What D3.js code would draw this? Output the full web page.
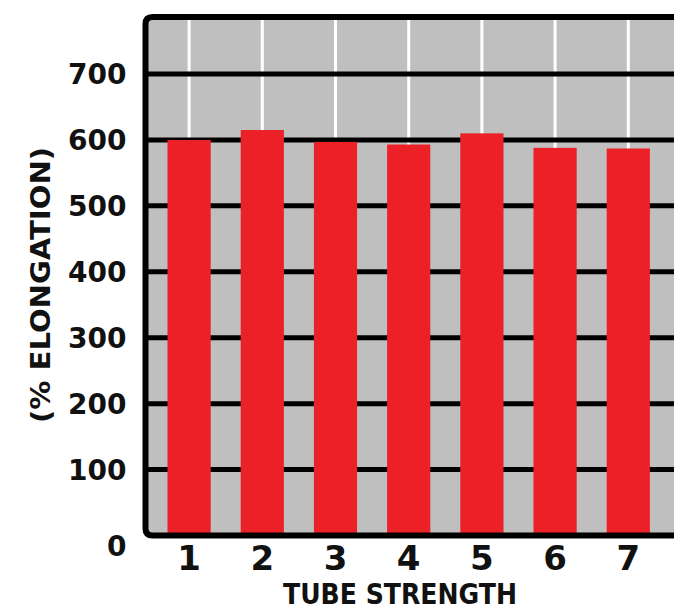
<!DOCTYPE html>
<html>
<head>
<meta charset="utf-8">
<script src="https://cdn.jsdelivr.net/npm/d3@7"></script>
<style>
  body { margin: 0; background: #fff; }
  text { font-family: "DejaVu Sans", sans-serif; font-weight: bold; fill: #111; }
</style>
</head>
<body>
<div id="chart"></div>
<script>
// chart data
const categories = ['1', '2', '3', '4', '5', '6', '7'];
const elongation = [600, 615, 597, 593, 610, 588, 587];
const yTicks = [0, 100, 200, 300, 400, 500, 600, 700];

const width = 674, height = 611;
const margin = { top: 17, right: -30, bottom: 75.5, left: 145.5 };
const innerW = width - margin.left - margin.right;
const innerH = height - margin.top - margin.bottom;

const svg = d3.select('#chart').append('svg')
  .attr('width', width)
  .attr('height', height);

// y scale: 0 at the bottom axis, 700 on the top gridline
const y = d3.scaleLinear()
  .domain([0, 700])
  .range([innerH, innerH - 461.5]);

const x = d3.scaleBand()
  .domain(categories)
  .range([7, 7 + 7 * 73.2])
  .paddingInner(0.41)
  .paddingOuter(0.205);

const g = svg.append('g')
  .attr('transform', `translate(${margin.left},${margin.top})`);

// plot background
g.append('rect')
  .attr('width', innerW)
  .attr('height', innerH)
  .attr('fill', '#bfbfbf');

// white vertical lines at bar centres
g.selectAll('.vline')
  .data(categories)
  .enter()
  .append('line')
  .attr('x1', d => x(d) + x.bandwidth() / 2)
  .attr('x2', d => x(d) + x.bandwidth() / 2)
  .attr('y1', 0)
  .attr('y2', innerH)
  .attr('stroke', '#fff')
  .attr('stroke-width', 3);

// black horizontal gridlines
g.selectAll('.hline')
  .data(yTicks.slice(1))
  .enter()
  .append('line')
  .attr('x1', 0)
  .attr('x2', innerW)
  .attr('y1', d => y(d))
  .attr('y2', d => y(d))
  .attr('stroke', '#000')
  .attr('stroke-width', 5);

// bars
g.selectAll('.bar')
  .data(elongation)
  .enter()
  .append('rect')
  .attr('x', (d, i) => x(categories[i]))
  .attr('y', d => y(d))
  .attr('width', x.bandwidth())
  .attr('height', d => y(0) - y(d))
  .attr('fill', '#ec2027');

// frame: top, left and bottom with rounded corners
const r = 7;
g.append('path')
  .attr('d', `M${innerW},0 L${r},0 Q0,0 0,${r} L0,${innerH - r} Q0,${innerH} ${r},${innerH} L${innerW},${innerH}`)
  .attr('fill', 'none')
  .attr('stroke', '#000')
  .attr('stroke-width', 6);

// y tick labels
const yAxis = g.append('g')
  .call(d3.axisLeft(y).tickValues(yTicks).tickSize(0).tickPadding(19));
yAxis.select('.domain').remove();
yAxis.selectAll('text')
  .attr('dy', d => d === 0 ? '0.7em' : '0.35em')
  .style('font-size', '28px')
  .style('font-family', '"DejaVu Sans", sans-serif')
  .style('font-weight', 'bold')
  .attr('fill', '#111');

// x tick labels
const xAxis = g.append('g')
  .attr('transform', `translate(0,${innerH})`)
  .call(d3.axisBottom(x).tickSize(0).tickPadding(10));
xAxis.select('.domain').remove();
xAxis.selectAll('text')
  .style('font-size', '34px')
  .style('font-family', '"DejaVu Sans", sans-serif')
  .style('font-weight', 'bold')
  .attr('fill', '#111');

// axis titles
svg.append('text')
  .attr('x', 400)
  .attr('y', 604)
  .attr('text-anchor', 'middle')
  .attr('textLength', 234)
  .attr('lengthAdjust', 'spacingAndGlyphs')
  .style('font-size', '29px')
  .text('TUBE STRENGTH');

svg.append('text')
  .attr('transform', 'translate(50,285) rotate(-90)')
  .attr('text-anchor', 'middle')
  .attr('textLength', 276)
  .attr('lengthAdjust', 'spacingAndGlyphs')
  .style('font-size', '27px')
  .text('(% ELONGATION)');
</script>
</body>
</html>
